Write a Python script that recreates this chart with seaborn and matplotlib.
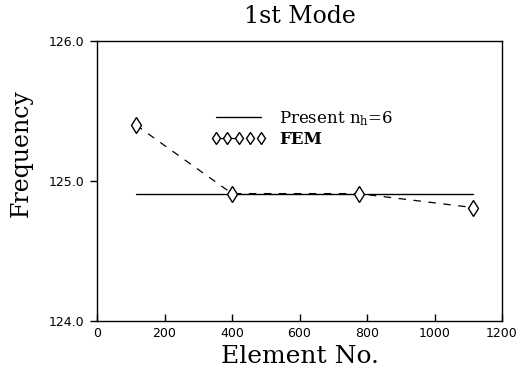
import matplotlib
matplotlib.use("Agg")
import matplotlib.pyplot as plt
import seaborn as sns
import pandas as pd

# Data
elements = [115, 400, 775, 1115]
present_freq = [124.91, 124.91, 124.91, 124.91]
fem_freq = [125.40, 124.91, 124.91, 124.81]
xticks = [0, 200, 400, 600, 800, 1000, 1200]
yticks = [124.0, 125.0, 126.0]
ytick_labels = ["124.0", "125.0", "126.0"]

sns.set_theme(style="white")
plt.rcParams["font.family"] = ["DejaVu Serif", "Liberation Serif"]
plt.rcParams["mathtext.fontset"] = "dejavuserif"
plt.rcParams["text.color"] = "black"
plt.rcParams["axes.labelcolor"] = "black"
plt.rcParams["xtick.color"] = "black"
plt.rcParams["ytick.color"] = "black"

df_present = pd.DataFrame({"x": elements, "y": present_freq})
df_fem = pd.DataFrame({"x": elements, "y": fem_freq})

fig = plt.figure(figsize=(5.29, 3.74), dpi=100)
ax = fig.add_axes([0.1834, 0.1417, 0.7656, 0.7487])

sns.lineplot(data=df_present, x="x", y="y", ax=ax, color="black", lw=1.0,
             label=r"Present n$_\mathrm{h}$=6")
sns.lineplot(data=df_fem, x="x", y="y", ax=ax, color="black", lw=0.9,
             marker="d", markersize=8, markerfacecolor="white",
             markeredgecolor="black", markeredgewidth=1.0,
             label="FEM")
ax.lines[1].set_dashes((6, 6))

ax.set_xlim(0, 1200)
ax.set_ylim(124.0, 126.0)
ax.set_xticks(xticks)
ax.set_xticklabels([str(t) for t in xticks], family="DejaVu Sans", fontsize=9)
ax.set_yticks(yticks)
ax.set_yticklabels(ytick_labels, family="DejaVu Sans", fontsize=9)
ax.tick_params(axis="x", direction="in", length=5, width=1, bottom=True, pad=4)
ax.tick_params(axis="y", direction="out", length=5, width=1, left=True, pad=4)

for s in ax.spines.values():
    s.set_color("black")
    s.set_linewidth(1.0)

ax.set_xlabel("Element No.", fontsize=18, labelpad=4)
ax.set_ylabel("Frequency", fontsize=17, va="center")
ax.yaxis.set_label_coords(-0.187, 0.6)
ax.set_title("1st Mode", fontsize=17, pad=13)

leg = ax.legend(loc="upper left", bbox_to_anchor=(0.265, 0.78), frameon=False,
                fontsize=12, handlelength=3.3, numpoints=5, handletextpad=0.8,
                labelspacing=0.2, borderaxespad=0, markerscale=0.8)
for t in leg.get_texts():
    t.set_color("black")
    if t.get_text() == "FEM":
        t.set_fontweight("bold")

fig.savefig("out.png", dpi=100)
